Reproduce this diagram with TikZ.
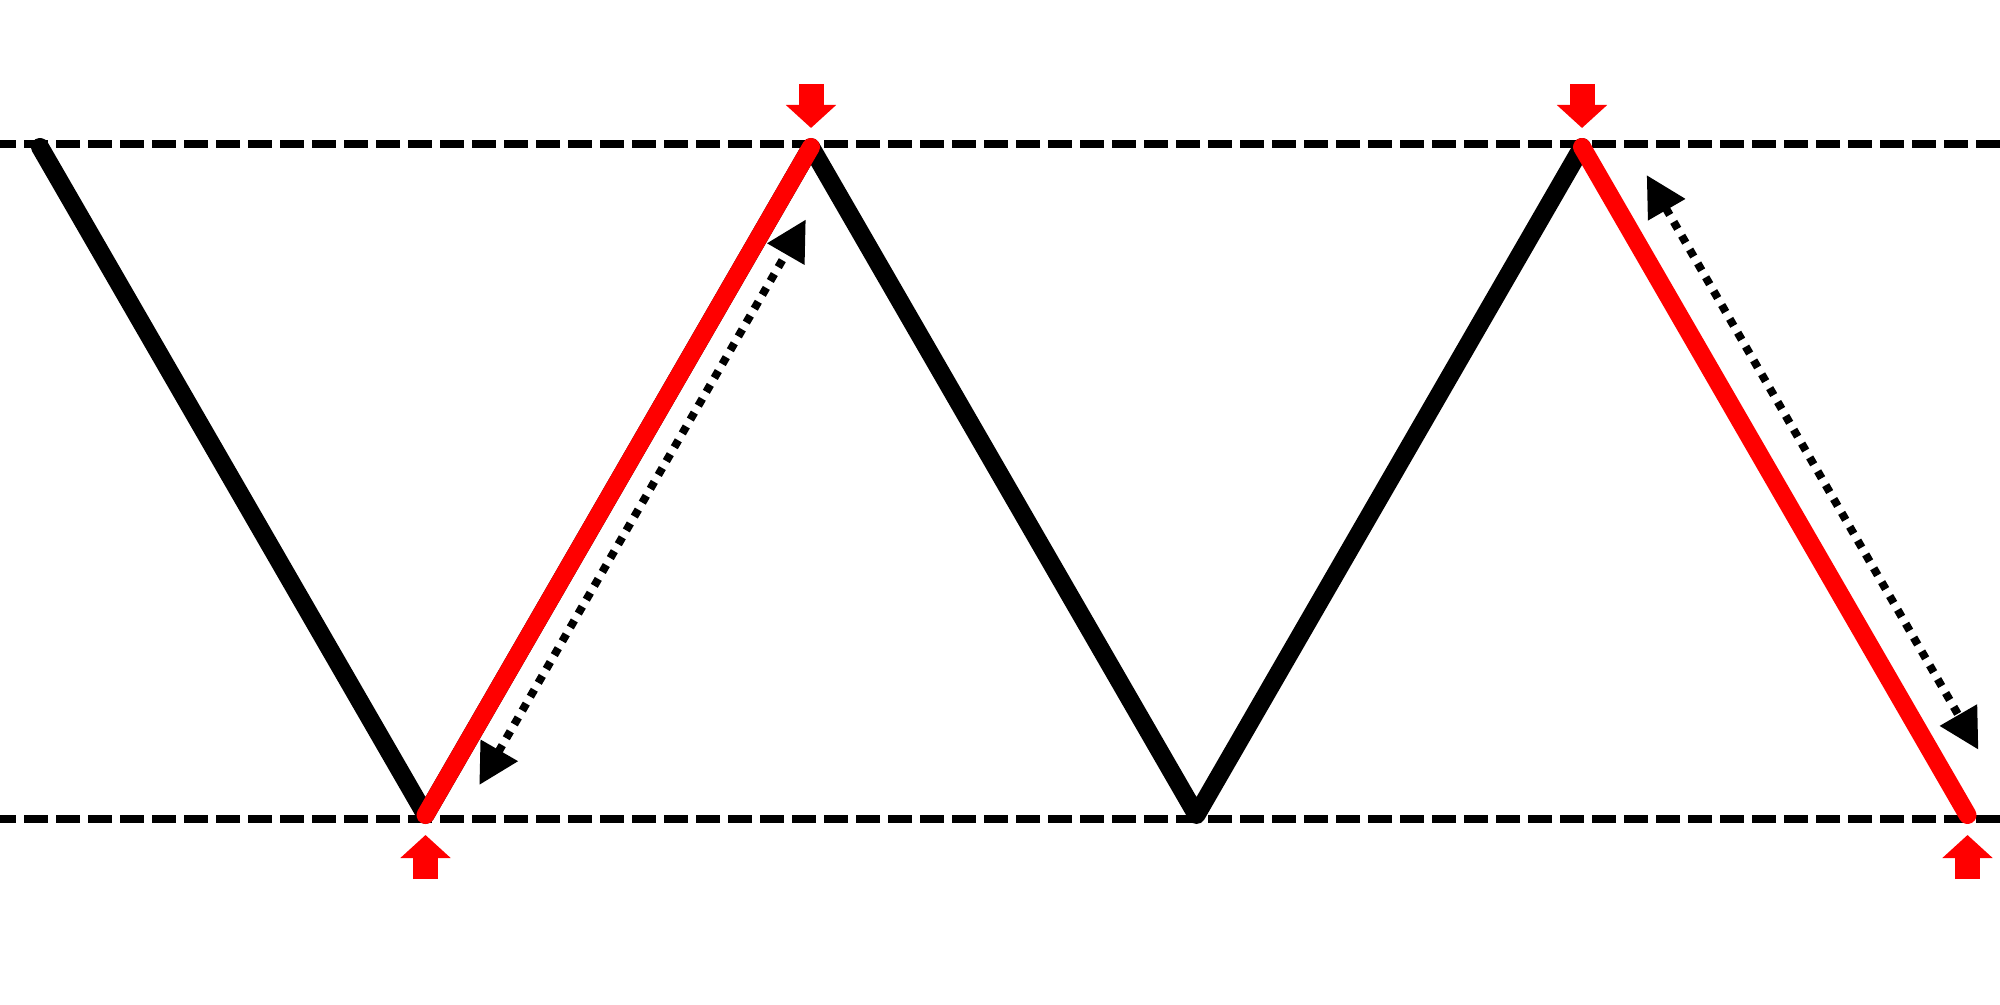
\documentclass[tikz,border=0pt]{standalone}
\usetikzlibrary{arrows.meta}

\begin{document}
\begin{tikzpicture}[
  guide/.style={line width=0.085cm,dash pattern=on 0.24cm off 0.08cm,dash phase=0.08cm},
  beam/.style={line width=0.18cm,line cap=round,line join=round},
  push/.style={red,line width=0.25cm,-{Triangle[length=0.23cm,width=0.49cm]}},
  shuttle/.style={line width=0.08cm,dash pattern=on 0.08cm off 0.08cm,
    {Triangle[length=0.40cm,width=0.41cm]}-{Triangle[length=0.40cm,width=0.41cm]}}
]
\useasboundingbox (0,0) rectangle (20,10.04);
% corners of the zigzag
\coordinate (t0) at (0.400,8.570);
\coordinate (b1) at (4.255,1.890);
\coordinate (t1) at (8.110,8.570);
\coordinate (b2) at (11.965,1.890);
\coordinate (t2) at (15.820,8.570);
\coordinate (b3) at (19.675,1.890);
% ends of the dotted arrows
\coordinate (d1a) at (4.793,2.190);
\coordinate (d1b) at (8.058,7.845);
\coordinate (d2a) at (16.467,8.289);
\coordinate (d2b) at (19.784,2.543);
% guide lines
\draw[guide] (0,8.600) -- (20,8.600);
\draw[guide] (0,1.850) -- (20,1.850);
% zigzag
\draw[beam] (t0) -- (b1) -- (t1) -- (b2) -- (t2);
\draw[beam,red] (b1) -- (t1);
\draw[beam,red] (t2) -- (b3);
% red arrows at the contact points
\draw[push] ([yshift=0.63cm]t1) -- ([yshift=0.19cm]t1);
\draw[push] ([yshift=0.63cm]t2) -- ([yshift=0.19cm]t2);
\draw[push] ([yshift=-0.64cm]b1) -- ([yshift=-0.20cm]b1);
\draw[push] ([yshift=-0.64cm]b3) -- ([yshift=-0.20cm]b3);
% dotted arrows
\draw[shuttle] (d1a) -- (d1b);
\draw[shuttle] (d2a) -- (d2b);
\end{tikzpicture}
\end{document}
